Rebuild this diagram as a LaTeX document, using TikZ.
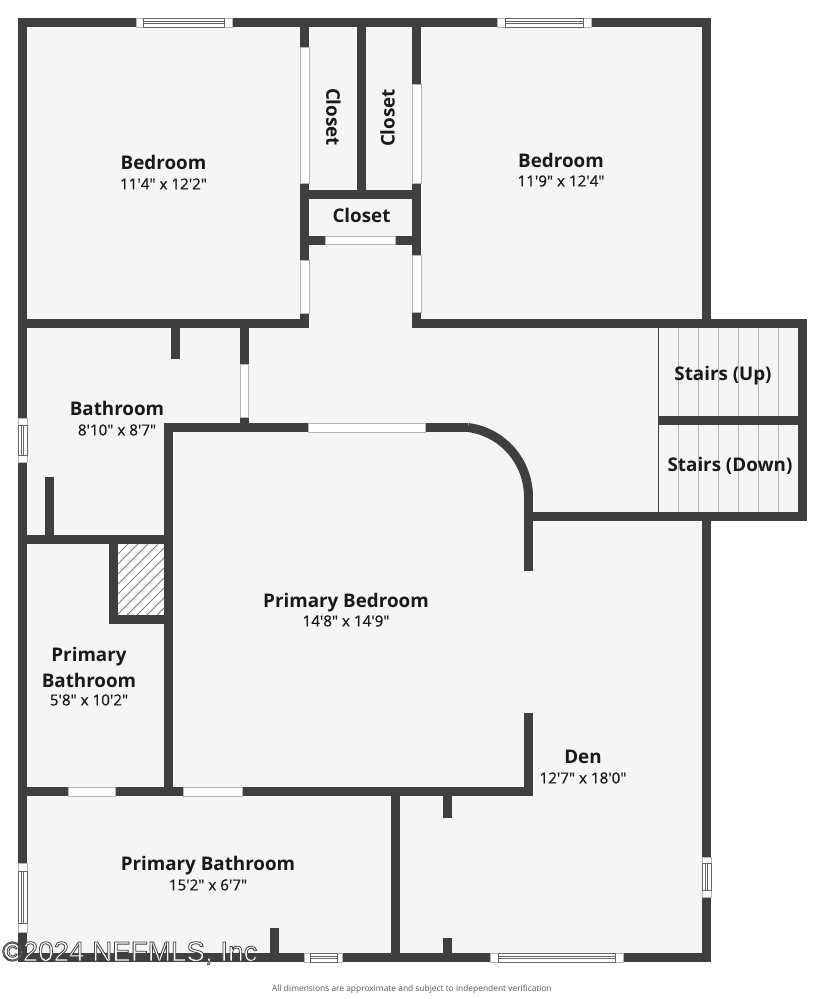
\documentclass[tikz,border=0pt]{standalone}
\usepackage{fontspec}
\setmainfont{Open Sans}
\newfontfamily\markfont{Liberation Sans}
\newfontfamily\sizefont[FakeBold=0.5]{Open Sans}
\definecolor{wallgrey}{HTML}{3F3F3F}
\definecolor{floorgrey}{HTML}{F5F5F5}
\definecolor{edgegrey}{HTML}{B4B4B4}
\tikzset{
  wall/.style={line width=9, draw=wallgrey},
  opening/.style={fill=white, draw=edgegrey, line width=0.7},
  glass/.style={draw=wallgrey!80, line width=0.7},
  tread/.style={draw=edgegrey, line width=1.1},
  roomname/.style={font=\fontsize{18.8}{18.8}\selectfont\bfseries, text=black!90, inner sep=0, text height=13.4pt, text depth=0},
  roomsize/.style={font=\fontsize{15.2}{15.2}\sizefont, text=black!90, inner sep=0, text height=10.8pt, text depth=0},
  markfg/.style={font=\fontsize{27.8}{27.8}\markfont, inner sep=0, anchor=west, text=white}
}
\begin{document}
\begin{tikzpicture}[x=1pt,y=-1pt]
\useasboundingbox (0,0) rectangle (825,999);

% floor
\fill [floorgrey] (22,22) -- (706,22) -- (706,323) -- (802,323) -- (802,516) -- (706,516) -- (706,957) -- (22,957) -- cycle;

% stairs
\foreach \x in {678.7,698.7,718.7,738.7,758.7,778.3} {
    \draw [tread] (\x,328) -- (\x,416);
    \draw [tread] (\x,425) -- (\x,512);
}
\draw [wallgrey, line width=1.8] (658.5,328) -- (658.5,512);

% hatched chimney
\begin{scope}
\clip (118,544) rectangle (164,615);
\fill [white] (118,544) rectangle (164,615);
\foreach \x in {118,128,...,238}
    \draw [edgegrey!70!black, line width=0.8] (\x,544) -- (\x-71,615);
\end{scope}

% walls: outer, then inner
\foreach \a/\b/\c/\d in {18/22.5/711/22.5, 22.5/18/22.5/962, 18/957.5/711/957.5,
    706.5/18/706.5/323, 706.5/516/706.5/962, 412/323.5/807/323.5, 802.5/319/802.5/521,
    658/420.5/807/420.5, 528/516.5/807/516.5,
    18/323.5/309/323.5, 304.5/22/304.5/328, 416.5/22/416.5/328, 361.5/22/361.5/195,
    300/194.5/421/194.5, 300/240/421/240,
    244/319/244/432, 175.5/328/175.5/359, 49.5/477/49.5/540,
    164/427.5/468/427.5, 168/423/168/796, 18/539.5/172/539.5,
    113.5/535/113.5/624, 109/619.5/172/619.5,
    18/791.5/533/791.5, 395/787/395/962, 447.5/787/447.5/818, 447.5/938/447.5/962,
    274.5/928/274.5/962, 528.5/497/528.5/571, 528.5/713/528.5/796}
    \draw [wall] (\a,\b) -- (\c,\d);
\draw [wall] (468,427.5) .. controls (503,432) and (528.5,462) .. (528.5,497);

% doors
\foreach \a/\b/\c/\d in {300/47/309/183, 300/260/309/313, 412/84/421/183, 412/255/421/312,
    325/236/395/244.5, 240/364/248/417, 308/423/425/432, 68/787/115/796, 183/787/242/796}
    \draw [opening] (\a,\b) rectangle (\c,\d);

% windows along a horizontal wall
\foreach \a/\b/\c/\d/\y in {136/143/224/232/18, 497/505/583/591/18, 304/310/337/342/953, 490/498/615/623/953} {
    \draw [opening] (\a,\y) rectangle (\d,\y+9);
    \draw [glass] (\b,\y) rectangle (\c,\y+9);
    \draw [glass] (\b,\y+3) -- (\c,\y+3);
    \draw [glass] (\b,\y+5.5) -- (\c,\y+5.5);
}
% and a vertical one
\foreach \a/\b/\c/\d/\x in {418/425/455/462/18, 863/871/923/932/18, 857/863/890/897/702} {
    \draw [opening] (\x,\a) rectangle (\x+9,\d);
    \draw [glass] (\x,\b) rectangle (\x+9,\c);
    \draw [glass] (\x+3,\b) -- (\x+3,\c);
    \draw [glass] (\x+5.5,\b) -- (\x+5.5,\c);
}

% room labels
\node [roomname] (bedroomA) at (163.5,162.5) {Bedroom};
\node [roomsize] (bedroomAsize) at (163.5,184) {11'4" x 12'2"};
\node [roomname] (bedroomB) at (561,160.5) {Bedroom};
\node [roomsize] (bedroomBsize) at (561,181) {11'9" x 12'4"};
\node [roomname, rotate=-90] (closetA) at (333,117) {Closet};
\node [roomname, rotate=90] (closetB) at (388,118) {Closet};
\node [roomname] (closetC) at (361.5,215.5) {Closet};
\node [roomname] (bathroom) at (117,409) {Bathroom};
\node [roomsize] (bathroomsize) at (117,430) {8'10" x 8'7"};
\node [roomname] (primarybed) at (346,601) {Primary Bedroom};
\node [roomsize] (primarybedsize) at (346,621) {14'8" x 14'9"};
\node [roomname] (primarybathAa) at (89,655) {Primary};
\node [roomname] (primarybathAb) at (89,680.5) {Bathroom};
\node [roomsize] (primarybathAsize) at (89,700) {5'8" x 10'2"};
\node [roomname] (primarybathB) at (208,864) {Primary Bathroom};
\node [roomsize] (primarybathBsize) at (208,885) {15'2" x 6'7"};
\node [roomname] (stairsup) at (723,373.5) {Stairs (Up)};
\node [roomname] (stairsdown) at (730,465) {Stairs (Down)};
\node [roomname] (den) at (583,757) {Den};
\node [roomsize] (densize) at (583,778) {12'7" x 18'0"};

% footer and watermark
\node [font=\fontsize{8.4}{8.4}\selectfont, text=black!65, inner sep=0] (footnote) at (412,989.5) {All dimensions are approximate and subject to independent verification};
\node [markfg] (nefmls) at (2,953.2) {\special{pdf:code q 2 Tr 0.8 w 0.25 G}©2024 NEFMLS, Inc\special{pdf:code 0 Tr Q}};

\end{tikzpicture}
\end{document}
